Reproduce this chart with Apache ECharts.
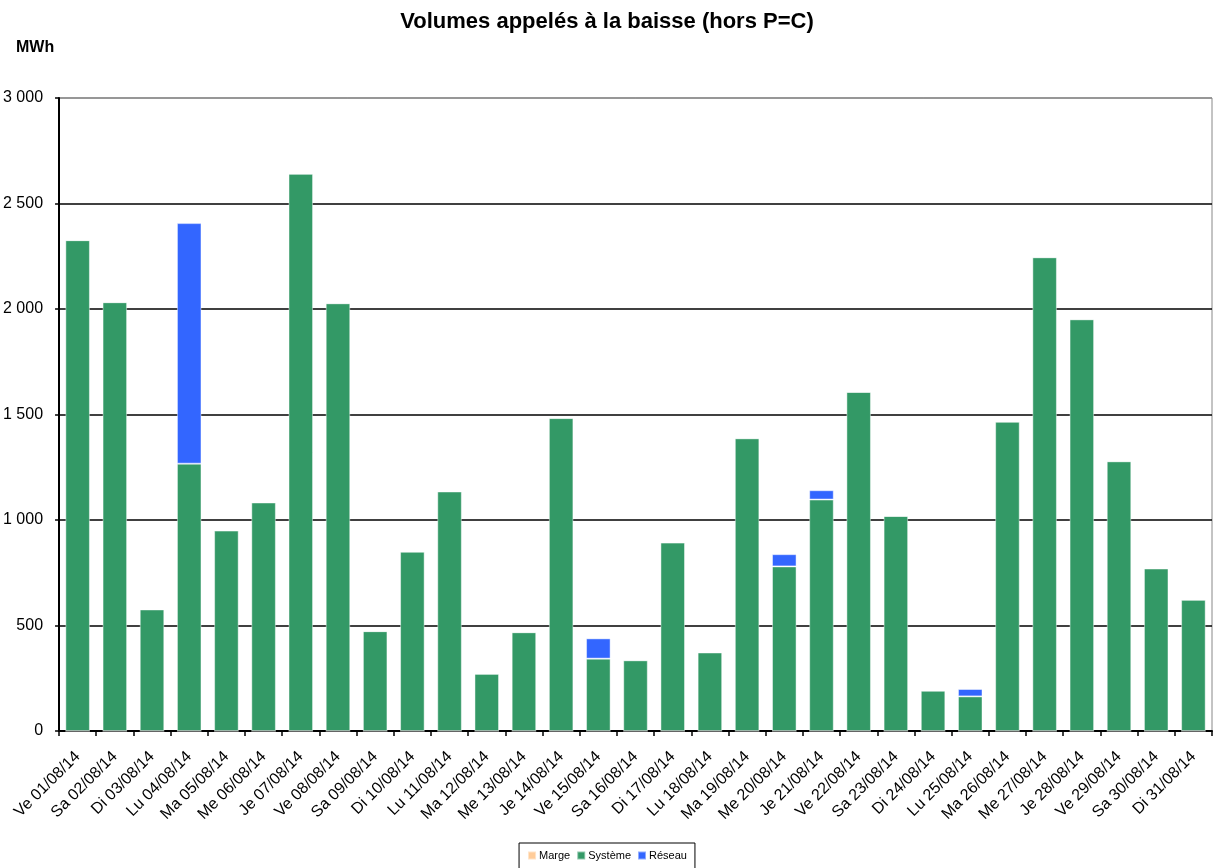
<!DOCTYPE html>
<html>
<head>
<meta charset="utf-8">
<script src="https://cdn.jsdelivr.net/npm/echarts@6/dist/echarts.min.js"></script>
<style>
html,body{margin:0;padding:0;background:#fff;}
#chart{width:1214px;height:868px;}
</style>
</head>
<body>
<div id="chart"></div>
<script>
const categories = [
  'Ve 01/08/14','Sa 02/08/14','Di 03/08/14','Lu 04/08/14','Ma 05/08/14','Me 06/08/14','Je 07/08/14',
  'Ve 08/08/14','Sa 09/08/14','Di 10/08/14','Lu 11/08/14','Ma 12/08/14','Me 13/08/14','Je 14/08/14',
  'Ve 15/08/14','Sa 16/08/14','Di 17/08/14','Lu 18/08/14','Ma 19/08/14','Me 20/08/14','Je 21/08/14',
  'Ve 22/08/14','Sa 23/08/14','Di 24/08/14','Lu 25/08/14','Ma 26/08/14','Me 27/08/14','Je 28/08/14',
  'Ve 29/08/14','Sa 30/08/14','Di 31/08/14'
];
const marge = [0,0,0,0,0,0,0,0,0,0,0,0,0,0,0,0,0,0,0,0,0,0,0,0,0,0,0,0,0,0,0];
const systeme = [2326,2032,576,1267,950,1083,2641,2027,473,850,1135,271,468,1483,343,335,893,372,1387,780,1097,1607,1019,191,164,1466,2245,1951,1278,770,622];
const reseau = [0,0,0,1140,0,0,0,0,0,0,0,0,0,0,96,0,0,0,0,58,44,0,0,0,35,0,0,0,0,0,0];
const seriesNames = ['Marge','Système','Réseau'];
const yTicks = [0,500,1000,1500,2000,2500,3000];

const chart = echarts.init(document.getElementById('chart'), null, {renderer:'canvas'});
const FONT = 'Liberation Sans, Arial, sans-serif';
const barBorder = {borderColor:'rgba(255,255,255,0.45)', borderWidth:1};
chart.setOption({
  animation:false,
  backgroundColor:'#fff',
  title:[
    {text:'Volumes appelés à la baisse (hors P=C)', left:'center', top:6,
     textStyle:{fontFamily:FONT, fontSize:22, fontWeight:'bold', color:'#000'}},
    {text:'MWh', left:11, top:35,
     textStyle:{fontFamily:FONT, fontSize:16, fontWeight:'bold', color:'#000'}}
  ],
  legend:{
    data:seriesNames, left:'center', top:843, itemWidth:8, itemHeight:8, itemGap:6,
    borderColor:'#000', borderWidth:1, padding:[7,8,12,8],
    icon:'rect',
    textStyle:{fontFamily:FONT, fontSize:11, color:'#000', padding:[0,0,0,-2]}
  },
  grid:{left:59, right:2, top:98, bottom:137, containLabel:false,
        show:true, borderColor:'#888', borderWidth:1},
  xAxis:{
    type:'category', data:categories,
    axisLine:{lineStyle:{color:'#000', width:2}},
    axisTick:{show:true, alignWithLabel:false, length:5, lineStyle:{color:'#000', width:1.5}},
    axisLabel:{rotate:45, interval:0, margin:23, fontFamily:FONT, fontSize:16, color:'#000'}
  },
  yAxis:{
    type:'value', min:yTicks[0], max:yTicks[yTicks.length-1], interval:500,
    axisLine:{show:true, lineStyle:{color:'#000', width:2}},
    axisTick:{show:true, length:4, lineStyle:{color:'#000', width:1.5}},
    splitLine:{show:true, lineStyle:{color:['#000','#000','#000','#000','#000','#000','#888'], width:1.5}},
    axisLabel:{margin:16, fontFamily:FONT, fontSize:16, color:'#000',
      formatter:v => String(v).replace(/\B(?=(\d{3})+(?!\d))/g,' ')}
  },
  series:[
    {name:seriesNames[0], type:'bar', stack:'v', data:marge, barWidth:'66%',
     itemStyle:Object.assign({color:'#FFCC99'}, barBorder)},
    {name:seriesNames[1], type:'bar', stack:'v', data:systeme, barWidth:'66%',
     itemStyle:Object.assign({color:'#339966'}, barBorder)},
    {name:seriesNames[2], type:'bar', stack:'v', data:reseau, barWidth:'66%',
     itemStyle:Object.assign({color:'#3366FF'}, barBorder)}
  ]
});
</script>
</body>
</html>
